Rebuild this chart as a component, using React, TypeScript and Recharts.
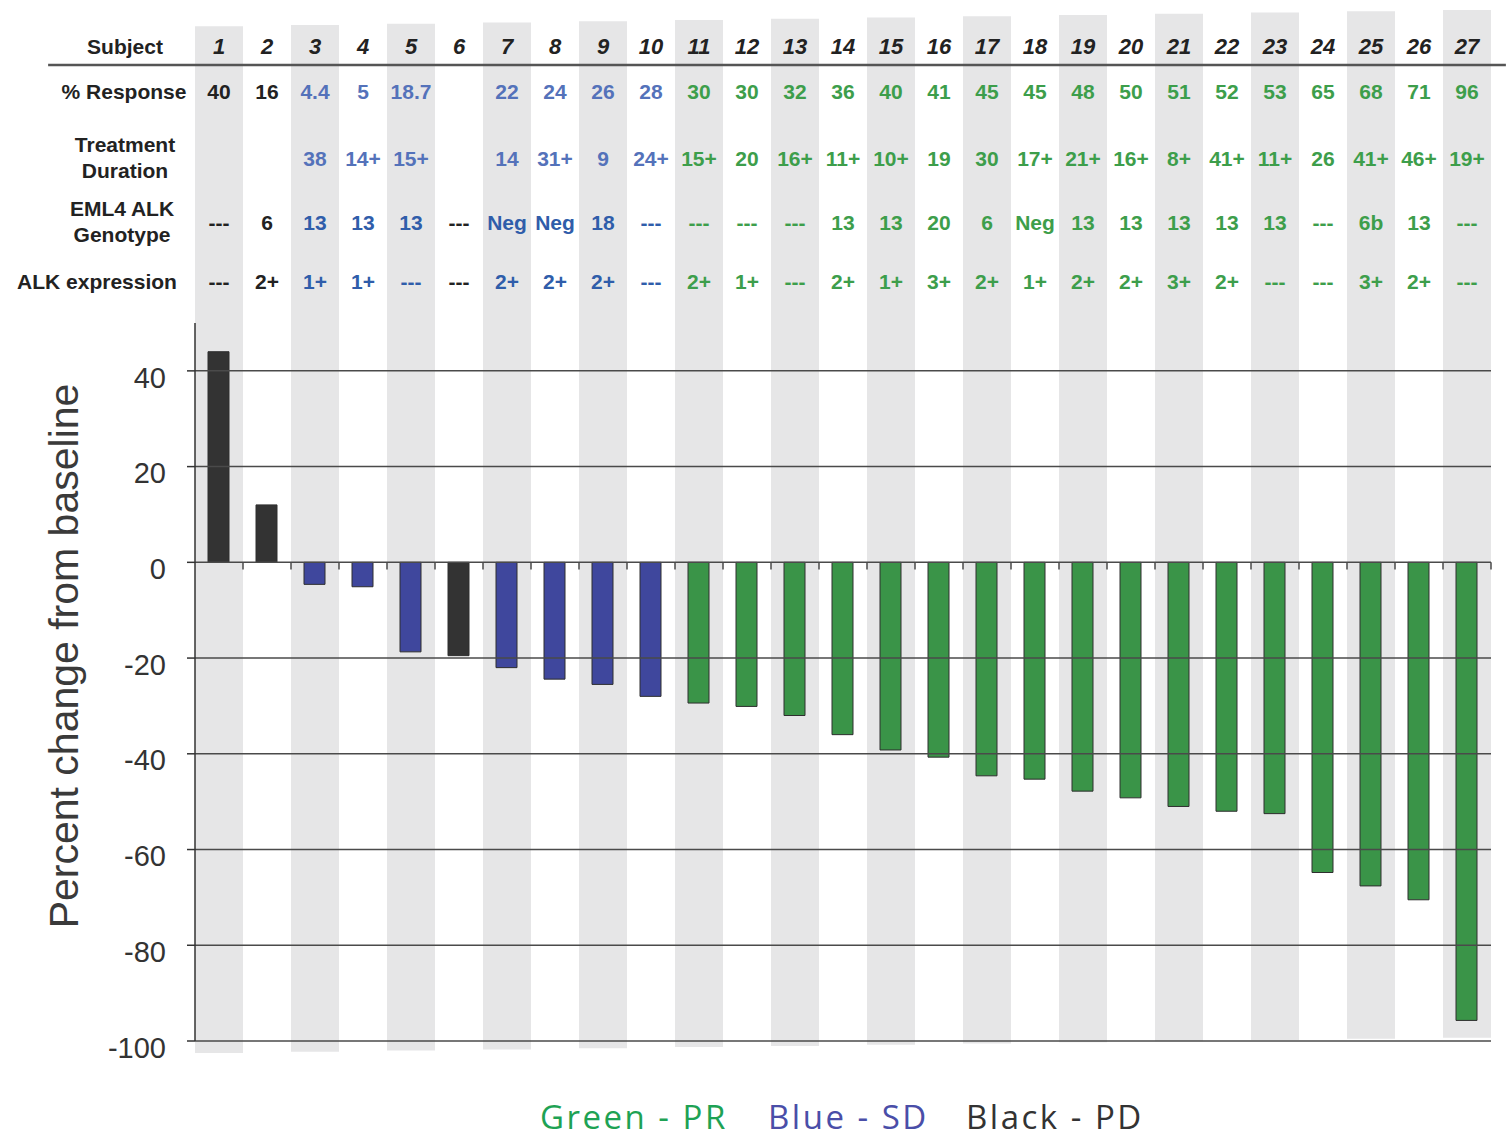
import {
  BarChart,
  Bar,
  Cell,
  XAxis,
  YAxis,
  ReferenceArea,
  ReferenceLine,
  Customized,
} from "recharts";

// subject ids, ordered as in the waterfall
const subjects = [1, 2, 3, 4, 5, 6, 7, 8, 9, 10, 11, 12, 13, 14, 15, 16, 17, 18, 19, 20, 21, 22, 23, 24, 25, 26, 27];

// best percent change from baseline (bar heights)
const pctChange = [
  44, 12, -4.6, -5.1, -18.7, -19.5, -22, -24.4, -25.5, -28, -29.4, -30.1, -32, -36,
  -39.2, -40.7, -44.6, -45.3, -47.8, -49.2, -51, -52, -52.5, -64.8, -67.6, -70.5, -95.7,
];

// PR / SD / PD per subject
const outcome = [
  "PD", "PD", "SD", "SD", "SD", "PD", "SD", "SD", "SD", "SD",
  "PR", "PR", "PR", "PR", "PR", "PR", "PR", "PR", "PR", "PR",
  "PR", "PR", "PR", "PR", "PR", "PR", "PR",
];

// table rows
const pctResponse = ["40", "16", "4.4", "5", "18.7", "", "22", "24", "26", "28", "30", "30", "32", "36", "40", "41", "45", "45", "48", "50", "51", "52", "53", "65", "68", "71", "96"];
const duration = ["", "", "38", "14+", "15+", "", "14", "31+", "9", "24+", "15+", "20", "16+", "11+", "10+", "19", "30", "17+", "21+", "16+", "8+", "41+", "11+", "26", "41+", "46+", "19+"];
const genotype = ["---", "6", "13", "13", "13", "---", "Neg", "Neg", "18", "---", "---", "---", "---", "13", "13", "20", "6", "Neg", "13", "13", "13", "13", "13", "---", "6b", "13", "---"];
const expression = ["---", "2+", "1+", "1+", "---", "---", "2+", "2+", "2+", "---", "2+", "1+", "---", "2+", "1+", "3+", "2+", "1+", "2+", "2+", "3+", "2+", "---", "---", "3+", "2+", "---"];

const yTicks = [-100, -80, -60, -40, -20, 0, 20, 40];

const barColors: Record<string, string> = { PR: "#3a9448", SD: "#3f479d", PD: "#333333" };
const textColors: Record<string, string> = { PR: "#3d9e4b", SD: "#2f5daa", PD: "#222222" };
const lightTextColors: Record<string, string> = { PR: "#3d9e4b", SD: "#5472ba", PD: "#222222" };

const SANS = "'Liberation Sans', Arial, sans-serif";

const data = subjects.map((s, i) => ({ subject: s, change: pctChange[i], outcome: outcome[i] }));

// table column drawn at each top tick
function TableColumn(props: any) {
  const { x, payload } = props;
  const i = subjects.indexOf(payload.value);
  if (i < 0) return null;
  const o = outcome[i];
  const common = { x, textAnchor: "middle" as const, fontFamily: SANS, fontWeight: 700, fontSize: 21 };
  return (
    <g>
      <text {...common} y={54} fill="#222" fontStyle="italic" fontSize={22}>{payload.value}</text>
      <text {...common} y={99} fill={lightTextColors[o]}>{pctResponse[i]}</text>
      <text {...common} y={166} fill={lightTextColors[o]}>{duration[i]}</text>
      <text {...common} y={230} fill={i === 1 ? "#222" : textColors[o]}>{genotype[i]}</text>
      <text {...common} y={289} fill={i === 1 ? "#222" : textColors[o]}>{expression[i]}</text>
    </g>
  );
}

function YTick(props: any) {
  const { x, y, payload } = props;
  return (
    <text x={x} y={y + 9} textAnchor="end" dominantBaseline="middle" fontFamily={SANS} fontSize={29} fill="#333">
      {payload.value}
    </text>
  );
}

function Decorations() {
  const lab = { textAnchor: "middle" as const, fontFamily: SANS, fontWeight: 700, fontSize: 21, fill: "#222" };
  return (
    <g>
      <text {...lab} x={125} y={54}>Subject</text>
      <text {...lab} x={124} y={99}>% Response</text>
      <text {...lab} x={125} y={152}>Treatment</text>
      <text {...lab} x={125} y={178}>Duration</text>
      <text {...lab} x={122} y={216}>EML4 ALK</text>
      <text {...lab} x={122} y={242}>Genotype</text>
      <text {...lab} x={97} y={289}>ALK expression</text>
      <text
        x={78}
        y={656}
        transform="rotate(-90 78 656)"
        textAnchor="middle"
        fontFamily={SANS}
        fontSize={41}
        fill="#3a3a3a"
      >
        Percent change from baseline
      </text>
      <g fontFamily="'Open Sans', 'Noto Sans', sans-serif" fontSize={33} letterSpacing={2.5}>
        <text x={540} y={1129} fill="#1ea254">Green - PR</text>
        <text x={768} y={1129} fill="#4a4ea8">Blue - SD</text>
        <text x={966} y={1129} fill="#333">Black - PD</text>
      </g>
    </g>
  );
}

export default function App() {
  return (
    <div style={{ width: 1508, height: 1145, background: "#fff" }}>
      <style>{"body{margin:0}"}</style>
      <BarChart width={1508} height={1145} data={data} margin={{ top: 322, right: 17, bottom: 104, left: 0 }}>
        <Customized component={Decorations} />
        {/* grey column stripes, slightly skewed like the source */}
        {subjects
          .filter((s) => s % 2 === 1)
          .map((s) => (
            <ReferenceArea
              key={`stripe-${s}`}
              xAxisId="main"
              x1={s - 0.5}
              x2={s + 0.5}
              y1={112 + (s - 1) * 0.13}
              y2={-102.5 + (s - 1) * 0.123}
              ifOverflow="visible"
              fill="#e6e6e7"
              fillOpacity={1}
              stroke="none"
            />
          ))}
        {/* table header rule */}
        <ReferenceLine
          xAxisId="main"
          segment={[
            { x: -2.56, y: 103.9 },
            { x: 27.81, y: 103.9 },
          ]}
          ifOverflow="visible"
          stroke="#555"
          strokeWidth={2.5}
        />
        {/* horizontal grid */}
        {yTicks.map((t) => (
          <ReferenceLine key={`grid-${t}`} xAxisId="main" y={t} stroke="#4a4a4a" strokeWidth={1.5} />
        ))}
        {subjects.map((s) => (
          <ReferenceLine
            key={`tick-${s}`}
            xAxisId="main"
            segment={[
              { x: s + 0.5, y: 0 },
              { x: s + 0.5, y: -1.5 },
            ]}
            stroke="#4a4a4a"
            strokeWidth={1.5}
          />
        ))}
        <XAxis xAxisId="main" dataKey="subject" type="number" domain={[0.5, 27.5]} hide />
        <XAxis
          xAxisId="table"
          dataKey="subject"
          type="number"
          orientation="top"
          domain={[0.5, 27.5]}
          ticks={subjects}
          interval={0}
          height={1}
          axisLine={false}
          tickLine={false}
          tick={<TableColumn />}
        />
        <YAxis
          type="number"
          domain={[-100, 50]}
          ticks={yTicks}
          interval={0}
          width={195}
          tickSize={8}
          tickMargin={21}
          allowDataOverflow
          axisLine={{ stroke: "#333", strokeWidth: 1.5 }}
          tickLine={{ stroke: "#333", strokeWidth: 1.5 }}
          tick={<YTick />}
        />
        <Bar xAxisId="main" dataKey="change" barSize={21} stroke="#2e2e2e" strokeWidth={1} isAnimationActive={false}>
          {data.map((d) => (
            <Cell key={d.subject} fill={barColors[d.outcome]} />
          ))}
        </Bar>
      </BarChart>
    </div>
  );
}
